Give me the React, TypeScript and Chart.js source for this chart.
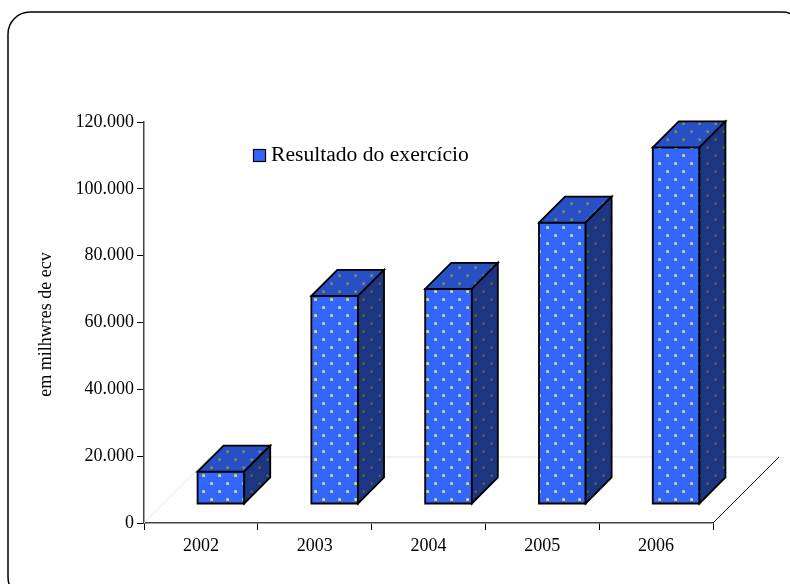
import React, { useEffect, useRef } from "react";
import { Chart, registerables } from "chart.js";

Chart.register(...registerables);

const categories = ["2002", "2003", "2004", "2005", "2006"];
const resultado = [9700, 62300, 64400, 84200, 106700];
const seriesLabel = "Resultado do exercício";
const axisTitle = "em milhwres de ecv";
const yMin = 0;
const yMax = 120000;
const yStep = 20000;

const SERIF = '"Liberation Serif", "Times New Roman", serif';

// oblique 3D projection: floor depth and where the columns sit in it
const FLOOR_DEPTH = 66;
const COL_FRONT_X = 20;
const COL_FRONT_Y = 19;
const COL_DEPTH = 26;

function fmtThousands(v: number): string {
  return String(v).replace(/\B(?=(\d{3})+(?!\d))/g, ".");
}

function makeDotPattern(
  ctx: CanvasRenderingContext2D,
  base: string,
  dot: string,
  halo: string
): CanvasPattern | string {
  const tile = document.createElement("canvas");
  tile.width = 16;
  tile.height = 16;
  const t = tile.getContext("2d");
  if (!t) return base;
  t.fillStyle = base;
  t.fillRect(0, 0, 16, 16);
  const spots = [
    [3, 3],
    [11, 11],
  ];
  for (const [sx, sy] of spots) {
    t.fillStyle = halo;
    t.fillRect(sx - 1, sy - 1, 3, 3);
    t.fillStyle = dot;
    t.fillRect(sx, sy, 1.5, 1.5);
  }
  return ctx.createPattern(tile, "repeat") || base;
}

const columns3d = {
  id: "columns3d",
  beforeDraw(chart: any) {
    const ctx: CanvasRenderingContext2D = chart.ctx;
    ctx.save();
    ctx.fillStyle = "#ffffff";
    ctx.fillRect(0, 0, chart.width, chart.height);
    // rounded outer frame
    ctx.strokeStyle = "#000000";
    ctx.lineWidth = 1.5;
    ctx.beginPath();
    (ctx as any).roundRect(8, 12, 796, 587, 22);
    ctx.stroke();
    ctx.restore();
  },
  beforeDatasetsDraw(chart: any) {
    const ctx: CanvasRenderingContext2D = chart.ctx;
    const { left, right, bottom } = chart.chartArea;
    const d = FLOOR_DEPTH;
    ctx.save();
    ctx.lineWidth = 1;
    ctx.strokeStyle = "#e2e2e2";
    ctx.beginPath();
    ctx.moveTo(left, bottom);
    ctx.lineTo(left + d, bottom - d);
    ctx.lineTo(right + d, bottom - d);
    ctx.stroke();
    ctx.strokeStyle = "#111111";
    ctx.beginPath();
    ctx.moveTo(right, bottom);
    ctx.lineTo(right + d, bottom - d);
    ctx.stroke();
    ctx.restore();
  },
  afterDatasetsDraw(chart: any) {
    const ctx: CanvasRenderingContext2D = chart.ctx;
    const meta = chart.getDatasetMeta(0);
    const front = makeDotPattern(ctx, "#3366ff", "#f4f44c", "rgba(205,212,95,0.8)");
    const top = makeDotPattern(ctx, "#2650c4", "#a0a058", "rgba(110,120,110,0.7)");
    const side = makeDotPattern(ctx, "#1c3682", "#6e6a44", "rgba(70,75,80,0.7)");
    const fx = COL_FRONT_X;
    const fy = COL_FRONT_Y;
    const dd = COL_DEPTH;
    ctx.save();
    ctx.lineWidth = 1.8;
    ctx.lineJoin = "miter";
    ctx.strokeStyle = "#000000";
    for (const el of meta.data) {
      const p = el.getProps(["x", "y", "base", "width"], true);
      const x0 = p.x - p.width / 2 + fx;
      const x1 = p.x + p.width / 2 + fx;
      const yt = p.y - fy;
      const yb = p.base - fy;

      // front face
      ctx.fillStyle = front;
      ctx.beginPath();
      ctx.rect(x0, yt, x1 - x0, yb - yt);
      ctx.fill();
      ctx.stroke();

      // top face
      ctx.fillStyle = top;
      ctx.beginPath();
      ctx.moveTo(x0, yt);
      ctx.lineTo(x0 + dd, yt - dd);
      ctx.lineTo(x1 + dd, yt - dd);
      ctx.lineTo(x1, yt);
      ctx.closePath();
      ctx.fill();
      ctx.stroke();

      // right side face
      ctx.fillStyle = side;
      ctx.beginPath();
      ctx.moveTo(x1, yt);
      ctx.lineTo(x1 + dd, yt - dd);
      ctx.lineTo(x1 + dd, yb - dd);
      ctx.lineTo(x1, yb);
      ctx.closePath();
      ctx.fill();
      ctx.stroke();
    }
    ctx.restore();
  },
  afterDraw(chart: any) {
    const ctx: CanvasRenderingContext2D = chart.ctx;
    const { top, bottom } = chart.chartArea;
    ctx.save();
    // vertical axis title
    ctx.fillStyle = "#000000";
    ctx.font = `18px ${SERIF}`;
    ctx.textAlign = "center";
    ctx.textBaseline = "middle";
    ctx.translate(46, (top + bottom) / 2 + 2);
    ctx.rotate(-Math.PI / 2);
    ctx.fillText(axisTitle, 0, 0);
    ctx.restore();

    // legend
    ctx.save();
    ctx.fillStyle = "#3366ff";
    ctx.fillRect(253.5, 149.5, 12, 12);
    ctx.strokeStyle = "#000000";
    ctx.lineWidth = 1.2;
    ctx.strokeRect(253.5, 149.5, 12, 12);
    ctx.fillStyle = "#000000";
    ctx.font = `21.6px ${SERIF}`;
    ctx.textAlign = "left";
    ctx.textBaseline = "alphabetic";
    ctx.fillText(seriesLabel, 271, 161);
    ctx.restore();
  },
};

export default function App() {
  const canvasRef = useRef<HTMLCanvasElement | null>(null);

  useEffect(() => {
    const canvas = canvasRef.current;
    if (!canvas) return;
    const chart = new Chart(canvas, {
      type: "bar",
      data: {
        labels: categories,
        datasets: [
          {
            label: seriesLabel,
            data: resultado,
            backgroundColor: "rgba(0,0,0,0)",
            borderWidth: 0,
            categoryPercentage: 1,
            barPercentage: 0.41,
          },
        ],
      },
      options: {
        animation: false,
        responsive: false,
        devicePixelRatio: 1,
        layout: { padding: { top: 122, right: 77, left: 0, bottom: 0 } },
        plugins: {
          legend: { display: false },
          tooltip: { enabled: false },
          title: { display: false },
        },
        scales: {
          x: {
            type: "category",
            offset: true,
            grid: {
              offset: true,
              drawOnChartArea: false,
              drawTicks: true,
              tickLength: 7,
              color: "#000000",
              lineWidth: 1,
            },
            border: { display: true, color: "#444444", width: 1.5 },
            ticks: {
              color: "#000000",
              padding: 5,
              maxRotation: 0,
              font: { family: SERIF, size: 18 },
            },
            afterFit(scale: any) {
              scale.height = 61;
            },
          },
          y: {
            type: "linear",
            min: yMin,
            max: yMax,
            grid: {
              drawOnChartArea: false,
              drawTicks: true,
              tickLength: 7,
              color: "#000000",
              lineWidth: 1,
            },
            border: { display: true, color: "#444444", width: 1.5 },
            ticks: {
              stepSize: yStep,
              color: "#000000",
              padding: 3,
              font: { family: SERIF, size: 18 },
              callback: (v: any) => fmtThousands(Number(v)),
            },
            afterFit(scale: any) {
              scale.width = 144;
            },
          },
        },
      },
      plugins: [columns3d],
    });
    return () => chart.destroy();
  }, []);

  return (
    <div style={{ position: "fixed", left: 0, top: 0, width: 790, height: 584, background: "#fff" }}>
      <canvas ref={canvasRef} width={790} height={584} style={{ display: "block" }} />
    </div>
  );
}
